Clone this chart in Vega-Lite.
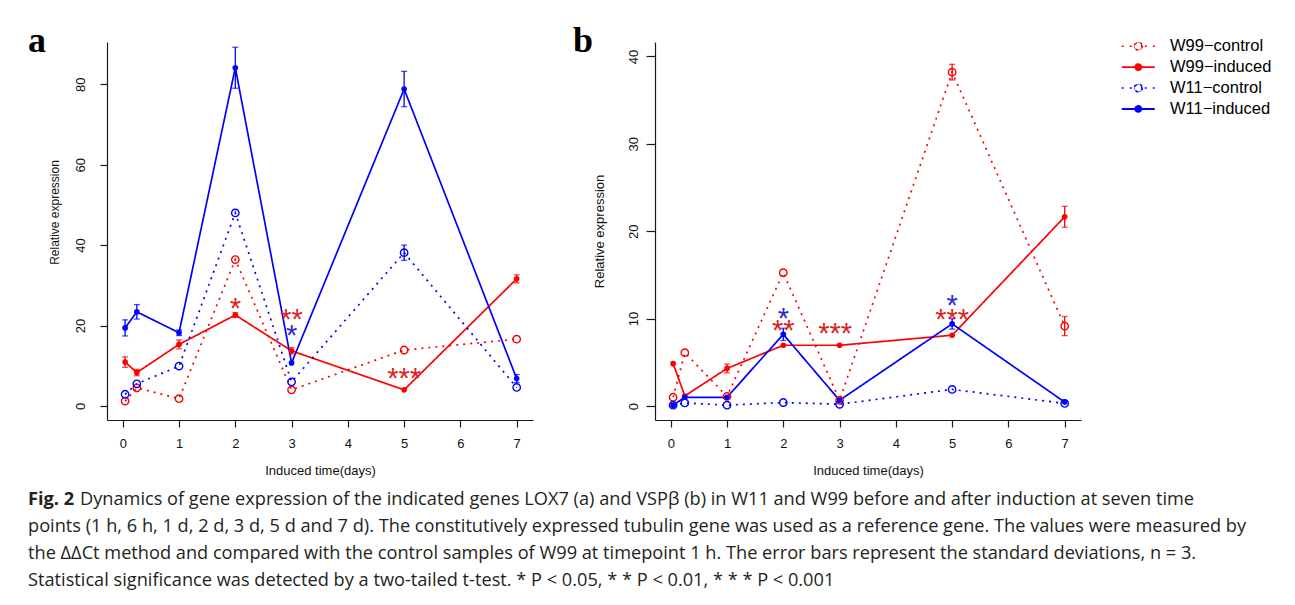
{
  "$schema": "https://vega.github.io/schema/vega-lite/v6.json",
  "padding": {"left": 28, "top": 22, "right": 4, "bottom": 4},
  "background": "#ffffff",
  "datasets": {
    "pts": [
      {"panel": "a", "series": "W99−control", "kind": "control", "t": 0.042, "value": 1.2, "err": 0},
      {"panel": "a", "series": "W99−control", "kind": "control", "t": 0.25, "value": 4.5, "err": 0},
      {"panel": "a", "series": "W99−control", "kind": "control", "t": 1, "value": 1.8, "err": 0},
      {"panel": "a", "series": "W99−control", "kind": "control", "t": 2, "value": 36.4, "err": 0},
      {"panel": "a", "series": "W99−control", "kind": "control", "t": 3, "value": 4.0, "err": 0},
      {"panel": "a", "series": "W99−control", "kind": "control", "t": 5, "value": 13.9, "err": 0},
      {"panel": "a", "series": "W99−control", "kind": "control", "t": 7, "value": 16.6, "err": 0},
      {"panel": "a", "series": "W99−induced", "kind": "induced", "t": 0.042, "value": 10.9, "err": 1.3},
      {"panel": "a", "series": "W99−induced", "kind": "induced", "t": 0.25, "value": 8.3, "err": 0.8},
      {"panel": "a", "series": "W99−induced", "kind": "induced", "t": 1, "value": 15.3, "err": 1.1},
      {"panel": "a", "series": "W99−induced", "kind": "induced", "t": 2, "value": 22.6, "err": 0.6},
      {"panel": "a", "series": "W99−induced", "kind": "induced", "t": 3, "value": 13.7, "err": 0.8},
      {"panel": "a", "series": "W99−induced", "kind": "induced", "t": 5, "value": 4.0, "err": 0},
      {"panel": "a", "series": "W99−induced", "kind": "induced", "t": 7, "value": 31.6, "err": 1.0},
      {"panel": "a", "series": "W11−control", "kind": "control", "t": 0.042, "value": 2.9, "err": 0},
      {"panel": "a", "series": "W11−control", "kind": "control", "t": 0.25, "value": 5.5, "err": 0},
      {"panel": "a", "series": "W11−control", "kind": "control", "t": 1, "value": 9.9, "err": 0},
      {"panel": "a", "series": "W11−control", "kind": "control", "t": 2, "value": 48.0, "err": 0},
      {"panel": "a", "series": "W11−control", "kind": "control", "t": 3, "value": 6.0, "err": 0},
      {"panel": "a", "series": "W11−control", "kind": "control", "t": 5, "value": 38.1, "err": 1.9},
      {"panel": "a", "series": "W11−control", "kind": "control", "t": 7, "value": 4.6, "err": 0},
      {"panel": "a", "series": "W11−induced", "kind": "induced", "t": 0.042, "value": 19.4, "err": 2.0},
      {"panel": "a", "series": "W11−induced", "kind": "induced", "t": 0.25, "value": 23.4, "err": 1.8},
      {"panel": "a", "series": "W11−induced", "kind": "induced", "t": 1, "value": 18.2, "err": 0.7},
      {"panel": "a", "series": "W11−induced", "kind": "induced", "t": 2, "value": 84.1, "err": 5.1},
      {"panel": "a", "series": "W11−induced", "kind": "induced", "t": 3, "value": 10.7, "err": 0},
      {"panel": "a", "series": "W11−induced", "kind": "induced", "t": 5, "value": 78.8, "err": 4.4},
      {"panel": "a", "series": "W11−induced", "kind": "induced", "t": 7, "value": 6.8, "err": 1.0},
      {"panel": "b", "series": "W99−control", "kind": "control", "t": 0.042, "value": 1.0, "err": 0},
      {"panel": "b", "series": "W99−control", "kind": "control", "t": 0.25, "value": 6.1, "err": 0},
      {"panel": "b", "series": "W99−control", "kind": "control", "t": 1, "value": 1.1, "err": 0},
      {"panel": "b", "series": "W99−control", "kind": "control", "t": 2, "value": 15.25, "err": 0},
      {"panel": "b", "series": "W99−control", "kind": "control", "t": 3, "value": 0.65, "err": 0},
      {"panel": "b", "series": "W99−control", "kind": "control", "t": 5, "value": 38.2, "err": 0.9},
      {"panel": "b", "series": "W99−control", "kind": "control", "t": 7, "value": 9.15, "err": 1.1},
      {"panel": "b", "series": "W99−induced", "kind": "induced", "t": 0.042, "value": 4.85, "err": 0},
      {"panel": "b", "series": "W99−induced", "kind": "induced", "t": 0.25, "value": 1.15, "err": 0},
      {"panel": "b", "series": "W99−induced", "kind": "induced", "t": 1, "value": 4.3, "err": 0.5},
      {"panel": "b", "series": "W99−induced", "kind": "induced", "t": 2, "value": 6.95, "err": 0},
      {"panel": "b", "series": "W99−induced", "kind": "induced", "t": 3, "value": 6.95, "err": 0},
      {"panel": "b", "series": "W99−induced", "kind": "induced", "t": 5, "value": 8.1, "err": 0},
      {"panel": "b", "series": "W99−induced", "kind": "induced", "t": 7, "value": 21.65, "err": 1.2},
      {"panel": "b", "series": "W11−control", "kind": "control", "t": 0.042, "value": 0.1, "err": 0},
      {"panel": "b", "series": "W11−control", "kind": "control", "t": 0.25, "value": 0.35, "err": 0},
      {"panel": "b", "series": "W11−control", "kind": "control", "t": 1, "value": 0.1, "err": 0},
      {"panel": "b", "series": "W11−control", "kind": "control", "t": 2, "value": 0.4, "err": 0},
      {"panel": "b", "series": "W11−control", "kind": "control", "t": 3, "value": 0.2, "err": 0},
      {"panel": "b", "series": "W11−control", "kind": "control", "t": 5, "value": 1.9, "err": 0},
      {"panel": "b", "series": "W11−control", "kind": "control", "t": 7, "value": 0.3, "err": 0},
      {"panel": "b", "series": "W11−induced", "kind": "induced", "t": 0.042, "value": 0.1, "err": 0},
      {"panel": "b", "series": "W11−induced", "kind": "induced", "t": 0.25, "value": 1.0, "err": 0},
      {"panel": "b", "series": "W11−induced", "kind": "induced", "t": 1, "value": 1.0, "err": 0},
      {"panel": "b", "series": "W11−induced", "kind": "induced", "t": 2, "value": 8.2, "err": 0.7},
      {"panel": "b", "series": "W11−induced", "kind": "induced", "t": 3, "value": 0.65, "err": 0},
      {"panel": "b", "series": "W11−induced", "kind": "induced", "t": 5, "value": 9.4, "err": 0.6},
      {"panel": "b", "series": "W11−induced", "kind": "induced", "t": 7, "value": 0.45, "err": 0}
    ],
    "sig": [
      {"panel": "a", "t": 2, "value": 26.1, "label": "*", "grp": "W99"},
      {"panel": "a", "t": 3, "value": 23.4, "label": "**", "grp": "W99"},
      {"panel": "a", "t": 3, "value": 19.4, "label": "*", "grp": "W11"},
      {"panel": "a", "t": 5, "value": 8.6, "label": "***", "grp": "W99"},
      {"panel": "b", "t": 2, "value": 10.9, "label": "*", "grp": "W11"},
      {"panel": "b", "t": 2, "value": 9.5, "label": "**", "grp": "W99"},
      {"panel": "b", "t": 2.92, "value": 9.15, "label": "***", "grp": "W99"},
      {"panel": "b", "t": 5, "value": 12.4, "label": "*", "grp": "W11"},
      {"panel": "b", "t": 5, "value": 10.75, "label": "***", "grp": "W99"}
    ]
  },
  "title": {
    "text": "Fig. 2",
    "subtitle": [
      "\u200b\u00a0\u00a0\u00a0\u00a0\u00a0\u00a0\u00a0\u00a0\u00a0\u00a0\u00a0Dynamics of gene expression of the indicated genes LOX7 (a) and VSPβ (b) in W11 and W99 before and after induction at seven time",
      "points (1 h, 6 h, 1 d, 2 d, 3 d, 5 d and 7 d). The constitutively expressed tubulin gene was used as a reference gene. The values were measured by",
      "the ΔΔCt method and compared with the control samples of W99 at timepoint 1 h. The error bars represent the standard deviations, n = 3.",
      "Statistical significance was detected by a two-tailed t-test. * P < 0.05, * * P < 0.01, * * * P < 0.001"
    ],
    "orient": "bottom",
    "anchor": "start",
    "frame": "bounds",
    "offset": 14,
    "font": "Open Sans",
    "fontSize": 18.2,
    "fontWeight": "bold",
    "color": "#231f20",
    "subtitleFont": "Open Sans",
    "subtitleFontSize": 18.2,
    "subtitleColor": "#231f20",
    "subtitleLineHeight": 27,
    "subtitlePadding": -18.2
  },
  "bounds": "flush",
  "spacing": 122,
  "resolve": {
    "scale": {"color": "independent", "strokeDash": "independent"},
    "legend": {"color": "independent", "strokeDash": "independent"}
  },
  "hconcat": [
    {
      "width": 426,
      "height": 378,
      "title": {"text": "a", "anchor": "start", "frame": "group", "orient": "top", "offset": 0, "dx": -79, "dy": 17.6, "baseline": "top", "font": "Liberation Serif", "fontSize": 36, "fontWeight": "bold", "color": "#000000"},
      "encoding": {
        "x": {"field": "t", "type": "quantitative", "scale": {"domain": [-0.28, 7.29], "nice": false, "zero": false},
              "axis": {"values": [0, 1, 2, 3, 4, 5, 6, 7], "format": "d", "title": "Induced time(days)"}},
        "y": {"field": "value", "type": "quantitative", "scale": {"domain": [-3.5, 90.5], "nice": false, "zero": false},
              "axis": {"values": [0, 20, 40, 60, 80], "title": "Relative expression", "labelAngle": -90, "labelAlign": "center", "labelBaseline": "bottom", "labelPadding": 12.5, "titlePadding": 13, "titleFontSize": 12, "titleY": 170}}
      },
      "layer": [
        {
          "data": {"name": "pts"},
          "transform": [{"filter": "datum.panel === 'a'"}],
          "mark": {"type": "line", "strokeWidth": 1.7},
          "encoding": {
            "color": {"field": "series", "type": "nominal", "legend": null,
                      "scale": {"domain": ["W99−control", "W99−induced", "W11−control", "W11−induced"], "range": ["#ff0000", "#ff0000", "#0000ff", "#0000ff"]}},
            "strokeDash": {"field": "series", "type": "nominal", "legend": null,
                           "scale": {"domain": ["W99−control", "W99−induced", "W11−control", "W11−induced"], "range": [[2, 5], [1, 0], [2, 5], [1, 0]]}}
          }
        },
        {
          "data": {"name": "pts"},
          "transform": [{"filter": "datum.panel === 'a' && datum.err > 0"}],
          "mark": {"type": "errorbar", "ticks": {"size": 6, "thickness": 1.3}, "rule": {"strokeWidth": 1.3}},
          "encoding": {
            "yError": {"field": "err"},
            "color": {"field": "series", "type": "nominal", "legend": null}
          }
        },
        {
          "data": {"name": "pts"},
          "transform": [{"filter": "datum.panel === 'a' && datum.kind === 'control'"}],
          "mark": {"type": "point", "shape": "circle", "filled": false, "size": 55, "strokeWidth": 1.4, "opacity": 1},
          "encoding": {"color": {"field": "series", "type": "nominal", "legend": null}}
        },
        {
          "data": {"name": "pts"},
          "transform": [{"filter": "datum.panel === 'a' && datum.kind === 'induced'"}],
          "mark": {"type": "circle", "size": 32, "opacity": 1},
          "encoding": {"color": {"field": "series", "type": "nominal", "legend": null}}
        },
        {
          "data": {"name": "sig"},
          "transform": [{"filter": "datum.panel === 'a' && datum.grp === 'W99'"}],
          "mark": {"type": "text", "color": "#dd2222", "font": "Liberation Sans", "fontSize": 29, "baseline": "middle", "dy": 8},
          "encoding": {"text": {"field": "label"}}
        },
        {
          "data": {"name": "sig"},
          "transform": [{"filter": "datum.panel === 'a' && datum.grp === 'W11'"}],
          "mark": {"type": "text", "color": "#2a2ad0", "font": "Liberation Sans", "fontSize": 29, "baseline": "middle", "dy": 8},
          "encoding": {"text": {"field": "label"}}
        }
      ]
    },
    {
      "width": 426,
      "height": 378,
      "title": {"text": "b", "anchor": "start", "frame": "group", "orient": "top", "offset": 0, "dx": -82, "dy": 21.6, "baseline": "top", "font": "Liberation Serif", "fontSize": 36, "fontWeight": "bold", "color": "#000000"},
      "encoding": {
        "x": {"field": "t", "type": "quantitative", "scale": {"domain": [-0.28, 7.29], "nice": false, "zero": false},
              "axis": {"values": [0, 1, 2, 3, 4, 5, 6, 7], "format": "d", "title": "Induced time(days)"}},
        "y": {"field": "value", "type": "quantitative", "scale": {"domain": [-1.6, 41.65], "nice": false, "zero": false},
              "axis": {"values": [0, 10, 20, 30, 40], "title": "Relative expression", "labelAngle": -90, "labelAlign": "center", "labelBaseline": "bottom", "tickSize": 9, "labelPadding": 5.5, "titlePadding": 21, "titleFontSize": 13}}
      },
      "layer": [
        {
          "data": {"name": "pts"},
          "transform": [{"filter": "datum.panel === 'b'"}],
          "mark": {"type": "line", "strokeWidth": 1.7},
          "encoding": {
            "color": {"field": "series", "type": "nominal",
                      "scale": {"domain": ["W99−control", "W99−induced", "W11−control", "W11−induced"], "range": ["#ff0000", "#ff0000", "#0000ff", "#0000ff"]},
                      "legend": {
                        "title": null, "orient": "none", "legendX": 475, "legendY": -4, "padding": 0,
                        "symbolSize": 272, "symbolStrokeWidth": 1.8, "rowPadding": 3.9, "labelOffset": 23.5,
                        "labelFont": "Liberation Sans", "labelFontSize": 16.5, "labelColor": "#000000",
                        "encode": {"symbols": {"update": {
                          "shape": {"signal": "(datum.value === 'W99−control' || datum.value === 'W11−control') ? 'M-2,0L-1.76,0M-1.03,0L-0.79,0M0.79,0L1.03,0M1.76,0L2,0M0.5,0A0.5,0.5,0,1,1,-0.5,0A0.5,0.5,0,1,1,0.5,0ZM0.43,0A0.43,0.43,0,1,0,-0.43,0A0.43,0.43,0,1,0,0.43,0Z' : 'M-2,0L2,0M0.36,0A0.36,0.36,0,1,1,-0.36,0A0.36,0.36,0,1,1,0.36,0ZM0.2,0A0.2,0.2,0,1,1,-0.2,0A0.2,0.2,0,1,1,0.2,0ZM0.06,0A0.06,0.06,0,1,1,-0.06,0A0.06,0.06,0,1,1,0.06,0Z'"},
                          "fill": {"signal": "(datum.value === 'W99−control' || datum.value === 'W11−control') ? '#ffffff' : (datum.value === 'W99−induced' ? '#ff0000' : '#0000ff')"},
                          "strokeDash": {"value": [1, 0]},
                          "strokeWidth": {"signal": "(datum.value === 'W99−control' || datum.value === 'W11−control') ? 1.4 : 1.9"},
                          "opacity": {"value": 1}
                        }}}
                      }},
            "strokeDash": {"field": "series", "type": "nominal", "legend": null,
                           "scale": {"domain": ["W99−control", "W99−induced", "W11−control", "W11−induced"], "range": [[2, 5], [1, 0], [2, 5], [1, 0]]}}
          }
        },
        {
          "data": {"name": "pts"},
          "transform": [{"filter": "datum.panel === 'b' && datum.err > 0"}],
          "mark": {"type": "errorbar", "ticks": {"size": 6, "thickness": 1.3}, "rule": {"strokeWidth": 1.3}},
          "encoding": {
            "yError": {"field": "err"},
            "color": {"field": "series", "type": "nominal"}
          }
        },
        {
          "data": {"name": "pts"},
          "transform": [{"filter": "datum.panel === 'b' && datum.kind === 'control'"}],
          "mark": {"type": "point", "shape": "circle", "filled": false, "size": 55, "strokeWidth": 1.4, "opacity": 1},
          "encoding": {"color": {"field": "series", "type": "nominal"}}
        },
        {
          "data": {"name": "pts"},
          "transform": [{"filter": "datum.panel === 'b' && datum.kind === 'induced'"}],
          "mark": {"type": "circle", "size": 32, "opacity": 1},
          "encoding": {"color": {"field": "series", "type": "nominal"}}
        },
        {
          "data": {"name": "sig"},
          "transform": [{"filter": "datum.panel === 'b' && datum.grp === 'W99'"}],
          "mark": {"type": "text", "color": "#dd2222", "font": "Liberation Sans", "fontSize": 29, "baseline": "middle", "dy": 8},
          "encoding": {"text": {"field": "label"}}
        },
        {
          "data": {"name": "sig"},
          "transform": [{"filter": "datum.panel === 'b' && datum.grp === 'W11'"}],
          "mark": {"type": "text", "color": "#2a2ad0", "font": "Liberation Sans", "fontSize": 29, "baseline": "middle", "dy": 8},
          "encoding": {"text": {"field": "label"}}
        }
      ]
    }
  ],
  "config": {
    "view": {"stroke": null},
    "font": "Liberation Sans",
    "axis": {
      "grid": false, "domainColor": "#1a1a1a", "tickColor": "#1a1a1a", "domainWidth": 1.2, "tickWidth": 1.2,
      "labelFont": "Liberation Sans", "titleFont": "Liberation Sans", "labelFontSize": 13, "titleFontSize": 13,
      "titleFontWeight": "normal", "labelColor": "#111111", "titleColor": "#111111", "tickSize": 7,
      "labelFlush": false, "labelOverlap": false
    },
    "axisX": {"labelPadding": 10, "titlePadding": 14}
  }
}
